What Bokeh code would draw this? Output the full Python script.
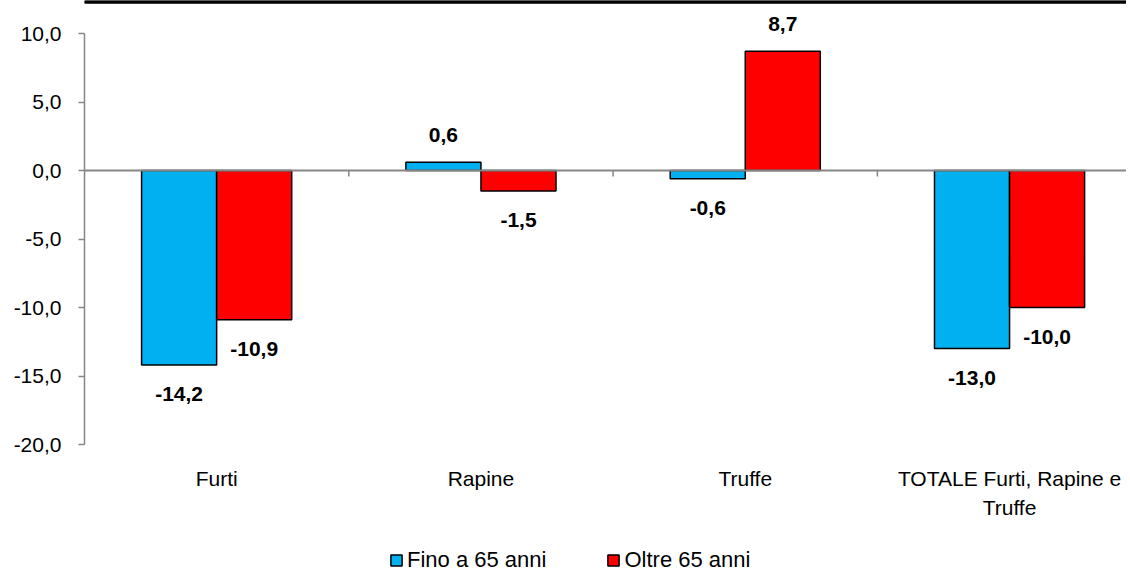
import math
from bokeh.plotting import figure
from bokeh.models import (ColumnDataSource, Range1d, FixedTicker, Legend, LegendItem, Span,
                          BoxAnnotation)
from bokeh.core.properties import value
from bokeh.embed import file_html
from bokeh.resources import INLINE

categories = ["Furti", "Rapine", "Truffe", "TOTALE Furti, Rapine e\nTruffe"]
fino_65 = [-14.2, 0.6, -0.6, -13.0]
oltre_65 = [-10.9, -1.5, 8.7, -10.0]
series_names = ["Fino a 65 anni", "Oltre 65 anni"]
y_ticks = [-20, -15, -10, -5, 0, 5, 10]

FONT = "Liberation Sans"
BLUE = "#00B0F0"
RED = "#FF0000"
GRAY = "#868686"
BAR_W = 0.284
PX_PER_UNIT = 13.7
PX_PER_CAT = 264.3
FIG_W = 1126
FIG_H = 574
LEFT = 84
TOP_PX = 33  # pixel position of the top tick

def fmt(v):
    return f"{v:.1f}".replace(".", ",")

y_min, y_max = y_ticks[0], y_ticks[-1]
y_end = y_max + TOP_PX / PX_PER_UNIT
y_start = y_end - FIG_H / PX_PER_UNIT
x_end = (FIG_W - LEFT) / PX_PER_CAT

centers = [i + 0.5 for i in range(len(categories))]
boundaries = list(range(1, len(categories)))
src_a = ColumnDataSource(dict(x=[c - BAR_W / 2 for c in centers], top=fino_65,
                              lab=[fmt(v) for v in fino_65]))
src_b = ColumnDataSource(dict(x=[c + BAR_W / 2 for c in centers], top=oltre_65,
                              lab=[fmt(v) for v in oltre_65]))

p = figure(width=FIG_W, height=FIG_H, output_backend="svg", toolbar_location=None,
           x_range=Range1d(0, x_end), y_range=Range1d(y_start, y_end),
           x_axis_location=None,
           min_border_left=LEFT, min_border_right=0, min_border_top=0,
           min_border_bottom=0)
p.outline_line_color = None
p.grid.visible = False

# thick rule at the very top of the picture
p.add_layout(Span(location=y_end, dimension="width", line_color="black", line_width=6))
p.add_layout(BoxAnnotation(left=0, right=FIG_W, top=0, bottom=3,
                           left_units="canvas", right_units="canvas",
                           top_units="canvas", bottom_units="canvas",
                           fill_color="black", fill_alpha=1, line_color=None))

# zero line with category separators
p.add_layout(Span(location=0, dimension="width", line_color=GRAY, line_width=2))
p.ray(x=boundaries, y=[0] * len(boundaries), length=6, length_units="screen",
      angle=-math.pi / 2, line_color=GRAY, line_width=1.5)

ra = p.vbar(x="x", top="top", bottom=0, width=BAR_W, source=src_a,
            fill_color=BLUE, line_color="black", line_width=1.5)
rb = p.vbar(x="x", top="top", bottom=0, width=BAR_W, source=src_b,
            fill_color=RED, line_color="black", line_width=1.5)

# value labels
for src, vals in ((src_a, fino_65), (src_b, oltre_65)):
    pos = [i for i, v in enumerate(vals) if v >= 0]
    neg = [i for i, v in enumerate(vals) if v < 0]
    d = src.data
    sp = ColumnDataSource(dict(x=[d["x"][i] for i in pos], y=[d["top"][i] for i in pos],
                               t=[d["lab"][i] for i in pos]))
    sn = ColumnDataSource(dict(x=[d["x"][i] for i in neg], y=[d["top"][i] for i in neg],
                               t=[d["lab"][i] for i in neg]))
    p.text(x="x", y="y", text="t", source=sp, text_align="center",
           text_baseline="alphabetic", y_offset=-27, text_font=value(FONT),
           text_font_size="21px", text_font_style="bold", text_color="black")
    p.text(x="x", y="y", text="t", source=sn, text_align="center",
           text_baseline="top", y_offset=22, text_font=value(FONT),
           text_font_size="21px", text_font_style="bold", text_color="black")

# category labels under the axis range
p.text(x=centers, y=[y_min] * len(centers), text=categories, text_align="center",
       text_baseline="top", y_offset=22, text_font=value(FONT),
       text_font_size="21px", text_color="black", text_line_height=1.28)

# y axis
ya = p.yaxis[0]
ya.bounds = (y_min, y_max)
ya.ticker = FixedTicker(ticks=y_ticks)
ya.major_label_overrides = {t: fmt(t) for t in y_ticks}
ya.axis_line_color = GRAY
ya.axis_line_width = 1.5
ya.major_tick_line_color = GRAY
ya.major_tick_line_width = 1.5
ya.major_tick_out = 6
ya.major_tick_in = 0
ya.minor_tick_line_color = None
ya.major_label_standoff = 17
ya.major_label_text_font = FONT
ya.major_label_text_font_size = "21px"
ya.major_label_text_color = "black"

legend = Legend(items=[LegendItem(label=series_names[0], renderers=[ra]),
                       LegendItem(label=series_names[1], renderers=[rb])],
                orientation="horizontal", location=(305, 1))
legend.label_text_font = FONT
legend.label_text_font_size = "22px"
legend.label_text_color = "black"
legend.glyph_width = 14
legend.glyph_height = 14
legend.label_standoff = 4
legend.spacing = 60
legend.border_line_color = None
legend.background_fill_alpha = 0
legend.margin = 0
legend.padding = 0
p.add_layout(legend, "center")

open("out.html", "w").write(file_html(p, INLINE))
